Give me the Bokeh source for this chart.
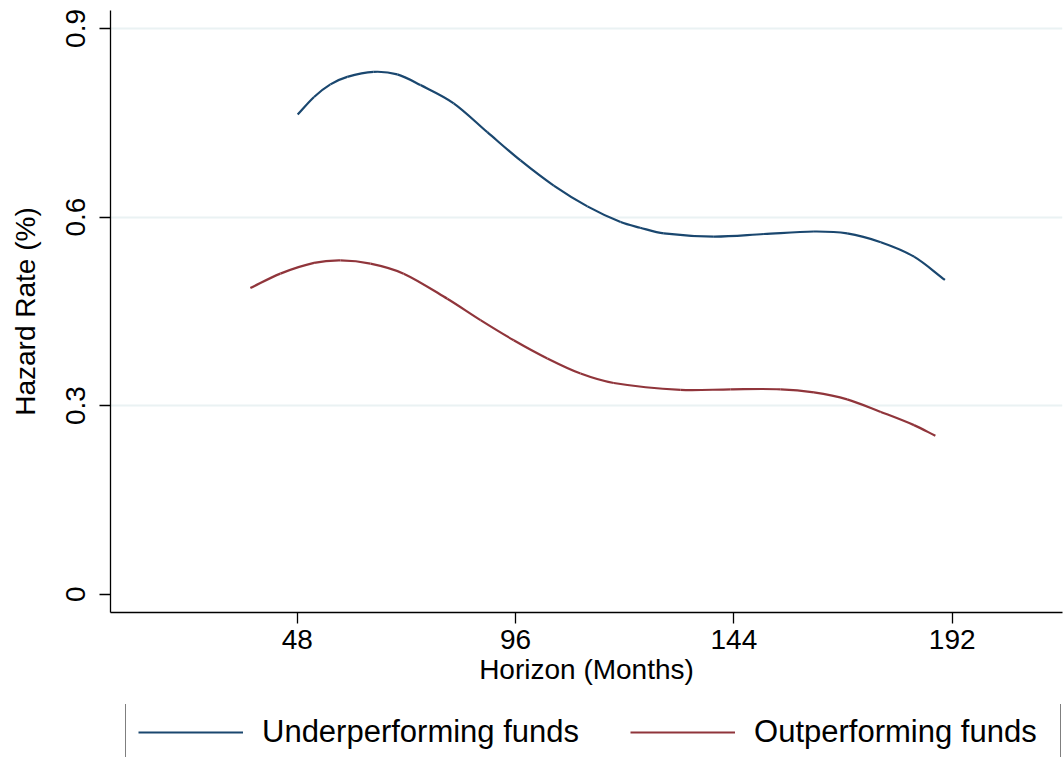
from bokeh.plotting import figure
from bokeh.layouts import column
from bokeh.models import Range1d, FixedTicker, Legend, LegendItem
from bokeh.embed import file_html
from bokeh.resources import INLINE

# Smoothed hazard rates by horizon (months)
months_under = [48.1, 51.7, 55.3, 59.0, 64.8, 70.0, 75.1, 82.4, 89.8, 97.1,
                104.4, 111.8, 119.1, 123.4, 128.6, 139.6, 150.6, 161.6, 168.9,
                176.3, 183.6, 190.4]
hazard_under = [0.763, 0.791, 0.811, 0.823, 0.831, 0.827, 0.810, 0.781, 0.735, 0.690,
                0.650, 0.617, 0.592, 0.583, 0.574, 0.569, 0.573, 0.577, 0.574,
                0.560, 0.537, 0.500]

months_out = [37.7, 44.3, 51.7, 57.5, 64.1, 71.4, 81.0, 88.3, 95.6, 103.0,
              110.3, 117.6, 132.3, 143.3, 154.3, 161.6, 168.9, 176.3,
              183.6, 188.3]
hazard_out = [0.487, 0.510, 0.527, 0.531, 0.526, 0.510, 0.470, 0.436, 0.404, 0.375,
              0.351, 0.336, 0.325, 0.326, 0.326, 0.321, 0.310, 0.290,
              0.269, 0.252]

series_names = ["Underperforming funds", "Outperforming funds"]
series_colors = ["#1a476f", "#90353b"]

x_ticks = [48, 96, 144, 192]
y_ticks = [0, 0.3, 0.6, 0.9]
y_tick_labels = ["0", "0.3", "0.6", "0.9"]
grid_ticks = [0.3, 0.6, 0.9]

FONT = "Liberation Sans"
# A generous fixed left border keeps the plot frame at a known place whatever room
# the rotated y-axis texts ask for; the page is then slid left by the surplus.
SHIFT = 50


def smooth_segments(xs, ys):
    """Cubic Hermite (Bezier) pieces through every point, slopes from neighbours."""
    n = len(xs)
    d = []
    for i in range(n):
        a, b = max(i - 1, 0), min(i + 1, n - 1)
        d.append((ys[b] - ys[a]) / (xs[b] - xs[a]))
    seg = dict(x0=[], y0=[], x1=[], y1=[], cx0=[], cy0=[], cx1=[], cy1=[])
    for i in range(n - 1):
        h = xs[i + 1] - xs[i]
        seg["x0"].append(xs[i]); seg["y0"].append(ys[i])
        seg["x1"].append(xs[i + 1]); seg["y1"].append(ys[i + 1])
        seg["cx0"].append(xs[i] + h / 3); seg["cy0"].append(ys[i] + d[i] * h / 3)
        seg["cx1"].append(xs[i + 1] - h / 3); seg["cy1"].append(ys[i + 1] - d[i + 1] * h / 3)
    return seg


# Main chart
p = figure(width=1063 + SHIFT, height=704, output_backend="svg", toolbar_location=None,
           x_range=Range1d(6.95, 216.25), y_range=Range1d(-0.0291, 0.9286),
           min_border_left=110 + SHIFT, min_border_right=1, min_border_top=10,
           min_border_bottom=92)
p.outline_line_color = None
p.background_fill_color = "white"
p.border_fill_color = "white"

for xs, ys, color in ((months_under, hazard_under, series_colors[0]),
                      (months_out, hazard_out, series_colors[1])):
    p.bezier(line_color=color, line_width=2.2, **smooth_segments(xs, ys))

for ax in (p.xaxis[0], p.yaxis[0]):
    ax.axis_line_color = "black"
    ax.axis_line_width = 1.3
    ax.major_tick_line_color = "black"
    ax.major_tick_line_width = 1.3
    ax.major_tick_out = 11
    ax.major_tick_in = 0
    ax.minor_tick_line_color = None
    ax.major_label_text_font = FONT
    ax.major_label_text_font_size = "28px"
    ax.major_label_text_color = "black"
    ax.axis_label_text_font = FONT
    ax.axis_label_text_font_size = "28px"
    ax.axis_label_text_font_style = "normal"
    ax.axis_label_text_color = "black"

p.xaxis.ticker = FixedTicker(ticks=x_ticks)
p.xaxis.axis_label = "Horizon (Months)"
p.xaxis.major_label_standoff = 6
p.xaxis.axis_label_standoff = 2

p.yaxis.ticker = FixedTicker(ticks=y_ticks)
p.yaxis.major_label_overrides = {t: s for t, s in zip(y_ticks, y_tick_labels)}
p.yaxis.major_label_orientation = "vertical"
p.yaxis.axis_label = "Hazard Rate (%)"
p.yaxis.major_label_standoff = 14
p.yaxis.axis_label_standoff = 23

p.xgrid.grid_line_color = None
p.ygrid.ticker = FixedTicker(ticks=grid_ticks)
p.ygrid.grid_line_color = "#eaf2f3"
p.ygrid.grid_line_width = 2

# Legend strip under the chart (its frame lines up with the chart's frame)
leg = figure(width=1063 + SHIFT, height=53, output_backend="svg", toolbar_location=None,
             x_axis_type=None, y_axis_type=None,
             x_range=Range1d(0, 1), y_range=Range1d(0, 1),
             min_border_left=110 + SHIFT, min_border_right=1, min_border_top=0,
             min_border_bottom=0)
leg.outline_line_color = None
leg.grid.grid_line_color = None
leg.background_fill_color = "white"
leg.border_fill_color = "white"

# the series again, outside this strip's view, so the legend has lines to show
swatches = [leg.line(xs, ys, line_color=c, line_width=2.2)
            for xs, ys, c in ((months_under, hazard_under, series_colors[0]),
                              (months_out, hazard_out, series_colors[1]))]

legend = Legend(
    items=[LegendItem(label=name, renderers=[r]) for name, r in zip(series_names, swatches)],
    orientation="horizontal",
    location=(15, -6),
    margin=0,
    padding=12,
    spacing=51,
    glyph_width=105,
    glyph_height=36,
    label_height=36,
    label_standoff=19,
    label_width=294,
    label_text_font=FONT,
    label_text_font_size="31px",
    label_text_color="black",
    border_line_color="black",
    border_line_width=1,
    background_fill_color="white",
    background_fill_alpha=1.0,
)
leg.add_layout(legend, "center")

page = column(p, leg, spacing=0, styles={"margin-left": f"-{SHIFT}px"})
open("out.html", "w").write(file_html(page, INLINE))
